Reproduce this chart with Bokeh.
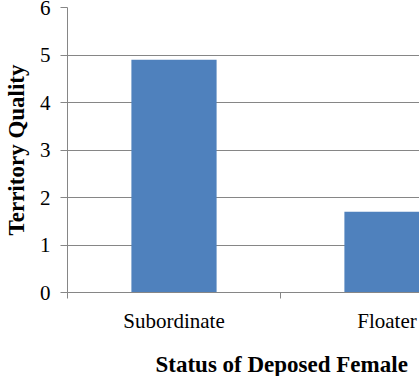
from bokeh.plotting import figure
from bokeh.models import Range1d, FixedTicker, Title
from bokeh.embed import file_html
from bokeh.resources import INLINE

categories = ["Subordinate", "Floater"]
values = [4.9, 1.7]
y_ticks = [0, 1, 2, 3, 4, 5, 6]
x_title = "Status of Deposed Female"
y_title = "Territory Quality"

xs = [i + 0.5 for i in range(len(categories))]
bounds = list(range(len(categories) + 1))

BLUE = "#4F81BD"
GRAY = "#868686"
FONT = "'Liberation Serif', 'Times New Roman', serif"

p = figure(width=419, height=376, output_backend="svg", toolbar_location=None,
           x_range=Range1d(0, 1.6526), y_range=Range1d(0, 6),
           min_border_left=0, min_border_right=0, min_border_top=7, min_border_bottom=0)
p.outline_line_color = None
p.background_fill_color = "white"
p.border_fill_color = "white"

p.vbar(x=xs, top=values, width=0.4, fill_color=BLUE, line_color=None)

# y axis
p.yaxis.ticker = FixedTicker(ticks=y_ticks)
p.yaxis.axis_line_color = GRAY
p.yaxis.major_tick_line_color = GRAY
p.yaxis.major_tick_out = 7
p.yaxis.major_tick_in = 0
p.yaxis.minor_tick_line_color = None
p.yaxis.major_label_text_font = FONT
p.yaxis.major_label_text_font_size = "21px"
p.yaxis.major_label_text_color = "black"
p.yaxis.major_label_standoff = 10
p.yaxis.axis_label = y_title
p.yaxis.axis_label_text_font = FONT
p.yaxis.axis_label_text_font_size = "23px"
p.yaxis.axis_label_text_font_style = "bold"
p.yaxis.axis_label_text_color = "black"
p.yaxis.axis_label_text_line_height = 1.0
p.yaxis.axis_label_standoff = 8

# x axis
p.xaxis.ticker = FixedTicker(ticks=xs, minor_ticks=bounds)
p.xaxis.major_label_overrides = {x: c for x, c in zip(xs, categories)}
p.xaxis.axis_line_color = GRAY
p.xaxis.major_tick_line_color = None
p.xaxis.minor_tick_line_color = GRAY
p.xaxis.minor_tick_out = 6
p.xaxis.minor_tick_in = 0
p.xaxis.major_label_text_font = FONT
p.xaxis.major_label_text_font_size = "21px"
p.xaxis.major_label_text_color = "black"
p.xaxis.major_label_standoff = 10
# invisible spacer between category labels and the x title
p.xaxis.axis_label = " "
p.xaxis.axis_label_text_font_size = "1px"
p.xaxis.axis_label_standoff = 10

# grid
p.xgrid.grid_line_color = None
p.ygrid.ticker = FixedTicker(ticks=y_ticks)
p.ygrid.grid_line_color = GRAY
p.ygrid.grid_line_width = 1

# x title, centred on the full category span (which runs past the right edge)
t = Title(text=x_title, align="left", offset=88, standoff=0,
          text_font=FONT, text_font_size="23px", text_font_style="bold", text_color="black",
          text_line_height=1.0)
p.add_layout(t, "below")

open("out.html", "w").write(file_html(p, INLINE))
